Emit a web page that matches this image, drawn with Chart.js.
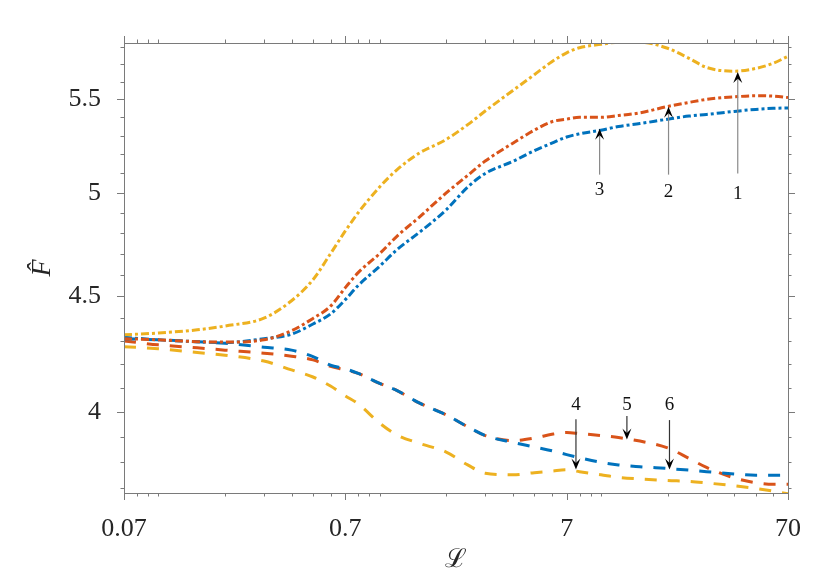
<!DOCTYPE html>
<html>
<head>
<meta charset="utf-8">
<script src="https://cdn.jsdelivr.net/npm/chart.js@4.4.1/dist/chart.umd.min.js"></script>
<style>
  html, body { margin: 0; padding: 0; background: #fff; }
  #wrap { width: 830px; height: 581px; position: relative; }
</style>
</head>
<body>
<div id="wrap"><canvas id="chart"></canvas></div>
<script>
// sample positions along L (log axis)
const xValues = [0.07, 0.1, 0.15, 0.2, 0.3, 0.4, 0.5, 0.6, 0.7, 0.8, 1, 1.2, 1.5, 2, 2.5, 3,
    4, 5, 6, 7, 8, 10, 12, 15, 20, 25, 30, 40, 50, 60, 70];

// upper (dash-dot) curves, labelled 1, 2, 3
const curve1 = [4.327, 4.335, 4.349, 4.366, 4.401, 4.48, 4.577, 4.70, 4.81, 4.90, 5.03, 5.12, 5.205, 5.28, 5.36, 5.435,
    5.55, 5.64, 5.715, 5.767, 5.797, 5.817, 5.829, 5.829, 5.794, 5.735, 5.682, 5.66, 5.676, 5.706, 5.747];
const curve2 = [4.31, 4.305, 4.297, 4.295, 4.305, 4.345, 4.40, 4.455, 4.54, 4.61, 4.70, 4.785, 4.875, 5.0, 5.09, 5.165,
    5.26, 5.33, 5.376, 5.39, 5.40, 5.40, 5.41, 5.425, 5.46, 5.483, 5.50, 5.514, 5.52, 5.518, 5.51];
const curve3 = [4.316, 4.305, 4.297, 4.293, 4.31, 4.33, 4.375, 4.42, 4.485, 4.55, 4.64, 4.72, 4.80, 4.915, 5.03, 5.10,
    5.163, 5.22, 5.26, 5.293, 5.31, 5.33, 5.35, 5.366, 5.39, 5.407, 5.416, 5.433, 5.444, 5.45, 5.452];

// lower (dashed) curves, labelled 4, 5, 6
const curve4 = [4.275, 4.266, 4.25, 4.238, 4.213, 4.175, 4.145, 4.107, 4.066, 4.033, 3.955, 3.907, 3.875, 3.84, 3.79, 3.758,
    3.752, 3.76, 3.766, 3.771, 3.764, 3.752, 3.742, 3.736, 3.73, 3.727, 3.721, 3.71, 3.70, 3.69, 3.68];
const curve5 = [4.30, 4.283, 4.27, 4.26, 4.247, 4.234, 4.218, 4.19, 4.175, 4.16, 4.118, 4.088, 4.038, 3.988, 3.94, 3.905,
    3.885, 3.895, 3.91, 3.917, 3.913, 3.905, 3.897, 3.883, 3.856, 3.815, 3.78, 3.74, 3.722, 3.716, 3.716];
const curve6 = [4.31, 4.305, 4.297, 4.29, 4.273, 4.26, 4.232, 4.195, 4.18, 4.16, 4.118, 4.088, 4.038, 3.988, 3.94, 3.905,
    3.878, 3.86, 3.845, 3.83, 3.818, 3.80, 3.79, 3.783, 3.776, 3.77, 3.764, 3.755, 3.75, 3.75, 3.75];

// axes
const xMajor = [0.07, 0.7, 7, 70];
const xTickLabels = ['0.07', '0.7', '7', '70'];
const xMinor = [0.08, 0.09, 0.1, 0.2, 0.3, 0.4, 0.5, 0.6, 0.8, 0.9, 1, 2, 3, 4, 5, 6, 8, 9, 10, 20, 30, 40, 50, 60];
const yMajor = [4, 4.5, 5, 5.5];
const yTickLabels = ['4', '4.5', '5', '5.5'];
const yMinor = [3.7, 3.8, 3.9, 4.1, 4.2, 4.3, 4.4, 4.6, 4.7, 4.8, 4.9, 5.1, 5.2, 5.3, 5.4, 5.6, 5.7, 5.8];

// numbered arrows: x position, tail, tip and label height (data units)
const arrowLabels = ['1', '2', '3', '4', '5', '6'];
const arrowX = [41.5, 20.2, 9.86, 7.71, 13.1, 20.4];
const arrowTail = [5.10, 5.094, 5.094, 3.970, 3.984, 3.967];
const arrowTip = [5.655, 5.459, 5.338, 3.772, 3.889, 3.772];
const arrowText = [4.995, 5.005, 5.015, 4.029, 4.029, 4.029];

const BLUE = '#0072BD', ORANGE = '#D95319', YELLOW = '#EDB120';
const DASHDOT = [8, 3, 3, 3];
const DASHED = [12, 11];
const SERIF = '"Liberation Serif", "DejaVu Serif", serif';
const AXIS = '#7a7a7a';

const series = [
    { label: '1', values: curve1, color: YELLOW, dash: DASHDOT },
    { label: '2', values: curve2, color: ORANGE, dash: DASHDOT },
    { label: '3', values: curve3, color: BLUE, dash: DASHDOT },
    { label: '6', values: curve6, color: BLUE, dash: DASHED },
    { label: '5', values: curve5, color: ORANGE, dash: DASHED },
    { label: '4', values: curve4, color: YELLOW, dash: DASHED },
];

function isIn(list, v) {
    return list.some(m => Math.abs(m - v) < 1e-9);
}

const frame = {
    id: 'frame',
    afterDatasetsDraw(chart) {
        const { ctx, chartArea: a, scales: { x, y } } = chart;
        ctx.save();
        ctx.strokeStyle = AXIS;
        ctx.lineWidth = 1;
        ctx.strokeRect(Math.round(a.left) + 0.5, Math.round(a.top) + 0.5,
            Math.round(a.right - a.left), Math.round(a.bottom - a.top));

        ctx.beginPath();
        xMajor.concat(xMinor).forEach(v => {
            const len = isIn(xMajor, v) ? 7 : 3.5;
            const px = Math.round(x.getPixelForValue(v)) + 0.5;
            ctx.moveTo(px, a.bottom); ctx.lineTo(px, a.bottom + len);
            ctx.moveTo(px, a.top); ctx.lineTo(px, a.top - len);
        });
        yMajor.concat(yMinor).forEach(v => {
            const len = isIn(yMajor, v) ? 7 : 3.5;
            const py = Math.round(y.getPixelForValue(v)) + 0.5;
            ctx.moveTo(a.left, py); ctx.lineTo(a.left - len, py);
            ctx.moveTo(a.right, py); ctx.lineTo(a.right + len, py);
        });
        ctx.stroke();

        // numbered arrows
        ctx.font = '19px ' + SERIF;
        ctx.textAlign = 'center';
        ctx.textBaseline = 'middle';
        arrowLabels.forEach((lab, i) => {
            const px = x.getPixelForValue(arrowX[i]);
            const y0 = y.getPixelForValue(arrowTail[i]);
            const y1 = y.getPixelForValue(arrowTip[i]);
            const dir = y1 < y0 ? -1 : 1;
            const head = 11;
            ctx.strokeStyle = i < 3 ? '#8a8a8a' : '#333';
            ctx.lineWidth = 1.2;
            ctx.beginPath();
            ctx.moveTo(px, y0);
            ctx.lineTo(px, y1 - dir * head * 0.6);
            ctx.stroke();
            ctx.fillStyle = '#000';
            ctx.beginPath();
            ctx.moveTo(px, y1);
            ctx.lineTo(px - 4.5, y1 - dir * head);
            ctx.lineTo(px, y1 - dir * head * 0.6);
            ctx.lineTo(px + 4.5, y1 - dir * head);
            ctx.closePath();
            ctx.fill();
            ctx.fillStyle = '#111';
            ctx.fillText(lab, px, y.getPixelForValue(arrowText[i]));
        });
        ctx.restore();
    }
};

new Chart(document.getElementById('chart'), {
    type: 'line',
    data: {
        datasets: series.map(s => ({
            label: s.label,
            data: xValues.map((v, i) => ({ x: v, y: s.values[i] })),
            borderColor: s.color,
            borderWidth: 3,
            borderDash: s.dash,
            pointRadius: 0,
            cubicInterpolationMode: 'monotone',
            fill: false,
        }))
    },
    options: {
        responsive: true,
        maintainAspectRatio: false,
        animation: false,
        layout: { padding: { top: 43, right: 42, left: 0, bottom: 0 } },
        plugins: { legend: { display: false }, tooltip: { enabled: false } },
        scales: {
            x: {
                type: 'logarithmic',
                min: 0.07,
                max: 70,
                grid: { display: false },
                border: { display: false },
                afterBuildTicks: scale => {
                    scale.ticks = xMajor.concat(xMinor).sort((a, b) => a - b).map(v => ({ value: v }));
                },
                afterFit: scale => { scale.height = 88; },
                ticks: {
                    autoSkip: false,
                    maxRotation: 0,
                    padding: 13,
                    color: '#262626',
                    font: { family: SERIF, size: 26 },
                    callback: v => {
                        const k = xMajor.findIndex(m => Math.abs(m - v) < 1e-9);
                        return k >= 0 ? xTickLabels[k] : '';
                    }
                },
                title: {
                    display: true,
                    text: '\u2112',
                    color: '#262626',
                    font: { family: '"DejaVu Serif", serif', size: 26 },
                    padding: { top: 0, bottom: 5 }
                }
            },
            y: {
                type: 'logarithmic',
                min: 3.683,
                max: 5.825,
                grid: { display: false },
                border: { display: false },
                afterBuildTicks: scale => {
                    scale.ticks = yMajor.concat(yMinor).sort((a, b) => a - b).map(v => ({ value: v }));
                },
                afterFit: scale => { scale.width = 124; },
                ticks: {
                    autoSkip: false,
                    padding: 15,
                    color: '#262626',
                    font: { family: SERIF, size: 26 },
                    callback: v => {
                        const k = yMajor.findIndex(m => Math.abs(m - v) < 1e-9);
                        return k >= 0 ? yTickLabels[k] : '';
                    }
                },
                title: {
                    display: true,
                    text: 'F\u0302',
                    color: '#262626',
                    font: { family: SERIF, size: 28, style: 'italic' },
                    padding: { top: 26, bottom: 0 }
                }
            }
        }
    },
    plugins: [frame]
});
</script>
</body>
</html>
